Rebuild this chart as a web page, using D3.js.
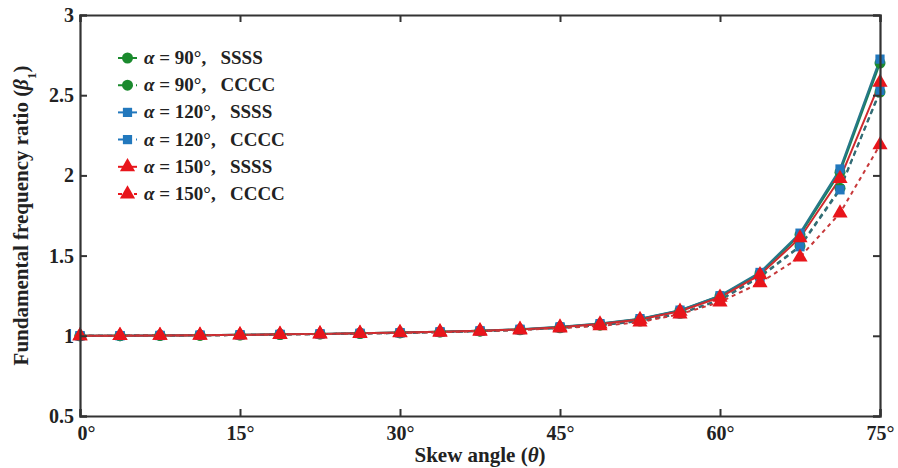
<!DOCTYPE html>
<html>
<head>
<meta charset="utf-8">
<script src="https://cdn.jsdelivr.net/npm/d3@7"></script>
<style>
  body { margin: 0; background: #fff; }
  text { font-family: "Liberation Serif", "Times New Roman", serif; font-weight: bold; fill: #222; }
</style>
</head>
<body>
<svg id="chart"></svg>
<script>
// skew angles, 0..75 deg in 3.75 deg steps
const angles = [0, 3.75, 7.5, 11.25, 15, 18.75, 22.5, 26.25, 30, 33.75, 37.5, 41.25, 45, 48.75, 52.5, 56.25, 60, 63.75, 67.5, 71.25, 75];

const a90SSSS  = [1.000, 1.001, 1.002, 1.004, 1.006, 1.009, 1.012, 1.016, 1.020, 1.025, 1.031, 1.040, 1.055, 1.075, 1.105, 1.158, 1.248, 1.390, 1.630, 2.020, 2.700];
const a90CCCC  = [1.000, 1.001, 1.002, 1.003, 1.005, 1.008, 1.011, 1.014, 1.018, 1.023, 1.029, 1.037, 1.050, 1.066, 1.092, 1.140, 1.225, 1.370, 1.560, 1.920, 2.520];
const a120SSSS = [1.000, 1.001, 1.002, 1.004, 1.006, 1.009, 1.012, 1.016, 1.020, 1.025, 1.031, 1.041, 1.056, 1.076, 1.107, 1.160, 1.250, 1.395, 1.640, 2.040, 2.725];
const a120CCCC = [1.000, 1.001, 1.002, 1.003, 1.005, 1.008, 1.011, 1.014, 1.018, 1.023, 1.029, 1.037, 1.050, 1.066, 1.091, 1.138, 1.222, 1.365, 1.555, 1.910, 2.530];
const a150SSSS = [1.000, 1.001, 1.002, 1.004, 1.006, 1.009, 1.012, 1.016, 1.020, 1.025, 1.031, 1.040, 1.054, 1.073, 1.102, 1.153, 1.240, 1.380, 1.610, 1.980, 2.580];
const a150CCCC = [1.000, 1.001, 1.002, 1.003, 1.005, 1.008, 1.011, 1.014, 1.018, 1.022, 1.028, 1.036, 1.048, 1.062, 1.085, 1.135, 1.210, 1.330, 1.490, 1.765, 2.190];

const xTicks = [0, 15, 30, 45, 60, 75];
const yTicks = [0.5, 1, 1.5, 2, 2.5, 3];

const series = [
  { alpha: "90",  bc: "SSSS", values: a90SSSS,  marker: "circle",   color: "#1b8a2e", line: "#1d7f5a", dash: null },
  { alpha: "90",  bc: "CCCC", values: a90CCCC,  marker: "circle",   color: "#1b8a2e", line: "#2d6f66", dash: "5,4" },
  { alpha: "120", bc: "SSSS", values: a120SSSS, marker: "square",   color: "#2278bd", line: "#26788a", dash: null },
  { alpha: "120", bc: "CCCC", values: a120CCCC, marker: "square",   color: "#2278bd", line: "#346c78", dash: "5,4" },
  { alpha: "150", bc: "SSSS", values: a150SSSS, marker: "triangle", color: "#e8151b", line: "#cf2a2e", dash: null },
  { alpha: "150", bc: "CCCC", values: a150CCCC, marker: "triangle", color: "#e8151b", line: "#c7383a", dash: "4,4" }
];

const width = 898, height = 468;
const margin = { top: 15, right: 18, bottom: 52, left: 80 };

const svg = d3.select("#chart").attr("width", width).attr("height", height);

const x = d3.scaleLinear().domain([0, 75]).range([margin.left, width - margin.right]);
const y = d3.scaleLinear().domain([0.5, 3]).range([height - margin.bottom, margin.top]);

const symbols = {
  circle: d3.symbol().type(d3.symbolCircle).size(95),
  square: d3.symbol().type(d3.symbolSquare).size(85),
  triangle: d3.symbol().type(d3.symbolTriangle).size(100)
};

// lines
const line = d3.line().x((d, i) => x(angles[i])).y(d => y(d));
const plot = svg.append("g");
series.forEach(s => {
  plot.append("path")
    .attr("d", line(s.values))
    .attr("fill", "none")
    .attr("stroke", s.line)
    .attr("stroke-width", 2)
    .attr("stroke-dasharray", s.dash);
});

// markers, red on top
series.forEach(s => {
  plot.selectAll(null)
    .data(s.values)
    .join("path")
    .attr("d", symbols[s.marker])
    .attr("transform", (d, i) => `translate(${x(angles[i])},${y(d)})`)
    .attr("fill", s.color);
});

// frame + inward ticks
const axisColor = "#333";
const xAxis = d3.axisBottom(x).tickValues(xTicks).tickSize(-7).tickPadding(10).tickFormat(d => d + "°");
const yAxis = d3.axisLeft(y).tickValues(yTicks).tickSize(-7).tickPadding(6).tickFormat(d => d);

const gx = svg.append("g").attr("transform", `translate(0,${y(0.5)})`).call(xAxis);
const gy = svg.append("g").attr("transform", `translate(${x(0)},0)`).call(yAxis);
svg.append("g").attr("transform", `translate(0,${y(3)})`)
  .call(d3.axisTop(x).tickValues(xTicks).tickSize(-7).tickFormat(""));
svg.append("g").attr("transform", `translate(${x(75)},0)`)
  .call(d3.axisRight(y).tickValues(yTicks).tickSize(-7).tickFormat(""));

svg.selectAll(".domain").attr("stroke", axisColor).attr("stroke-width", 2.2);
svg.selectAll(".tick line").attr("stroke", axisColor).attr("stroke-width", 2);
svg.selectAll(".tick text")
  .style("font-family", "Liberation Serif, serif")
  .style("font-weight", "bold")
  .style("font-size", "20px")
  .attr("fill", "#222");
gx.selectAll(".tick").filter(d => d == 0).select("text").attr("dx", 6);

// axis titles
const xt = svg.append("text")
  .attr("x", 480).attr("y", 462)
  .attr("text-anchor", "middle")
  .style("font-size", "21px");
xt.append("tspan").text("Skew angle (");
xt.append("tspan").style("font-style", "italic").text("θ");
xt.append("tspan").text(")");

const yt = svg.append("text")
  .attr("transform", `translate(28,${(y(0.5) + y(3)) / 2}) rotate(-90)`)
  .attr("text-anchor", "middle")
  .style("font-size", "21px");
yt.append("tspan").text("Fundamental frequency ratio (");
yt.append("tspan").style("font-style", "italic").text("β");
yt.append("tspan").attr("baseline-shift", "sub").style("font-size", "13px").text("1");
yt.append("tspan").text(")");

// legend
const legend = svg.selectAll(".legend")
  .data(series)
  .join("g")
  .attr("class", "legend")
  .attr("transform", (d, i) => `translate(118,${58 + i * 27.2})`);

legend.append("line")
  .attr("x1", 0).attr("x2", 19)
  .attr("stroke", d => d.color)
  .attr("stroke-width", 2)
  .attr("stroke-dasharray", d => d.dash);

legend.append("path")
  .attr("d", d => symbols[d.marker](d))
  .attr("transform", "translate(9.5,0)")
  .attr("fill", d => d.color);

const lt = legend.append("text")
  .attr("x", 26).attr("y", 6)
  .style("font-size", "19px")
  .style("white-space", "pre");
lt.append("tspan").style("font-style", "italic").text("α");
lt.append("tspan").text(d => " = " + d.alpha + "°,   " + d.bc);
</script>
</body>
</html>
